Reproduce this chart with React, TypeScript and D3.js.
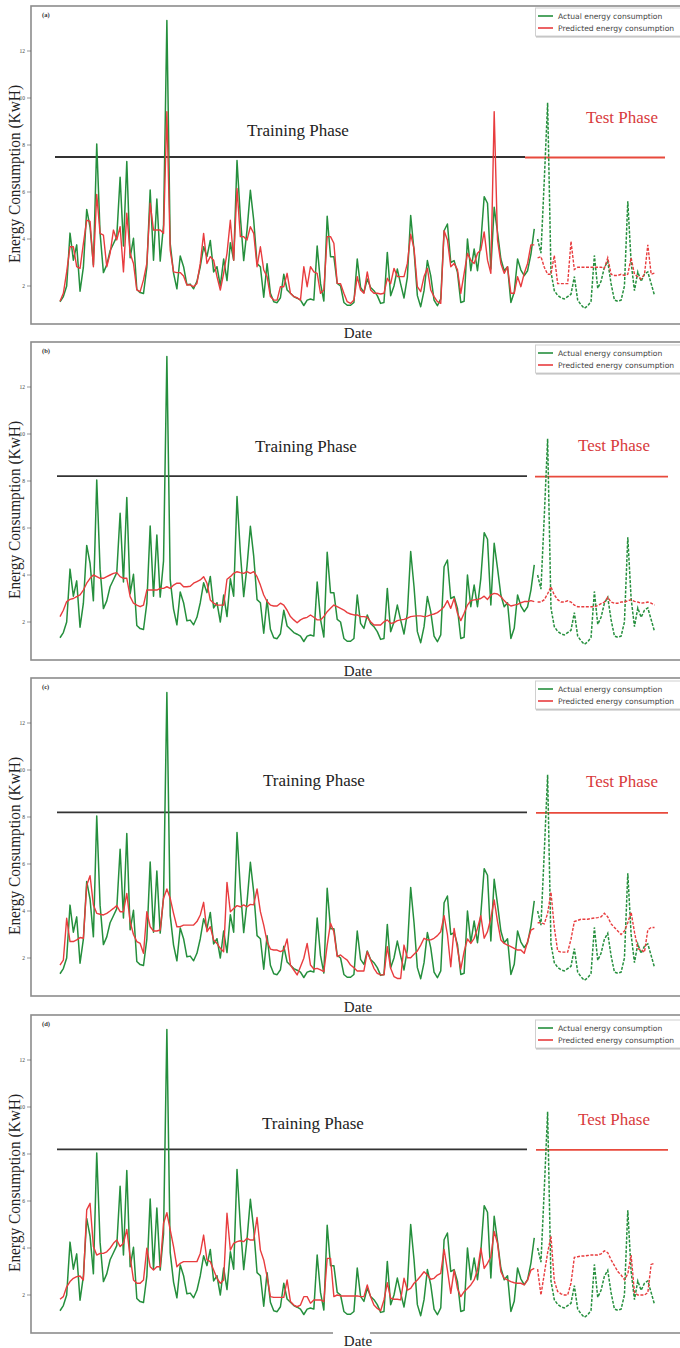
import React from "react";
import * as d3 from "d3";

// ---------- DATA ----------
const actualTrain = [
  1.33, 1.55, 2.0, 4.25, 3.1, 3.75, 1.78, 2.8, 5.26, 4.5,
  2.9, 8.04, 4.25, 2.57, 2.9, 3.5, 3.8, 4.1, 6.63, 3.7,
  7.3, 3.2, 4.03, 1.85, 1.72, 1.68, 2.8, 6.08, 3.1, 5.7,
  3.06, 4.6, 13.3, 3.8, 2.55, 1.88, 3.28, 2.82, 2.05, 2.08,
  1.88, 2.2, 2.82, 3.67, 3.25, 3.94, 2.6, 2.82, 2.0, 3.15,
  2.23, 3.84, 3.1, 7.34, 4.95, 3.08, 4.38, 6.07, 4.8, 2.95,
  2.82, 1.52, 2.95, 1.69, 1.33, 1.29, 1.5, 2.5, 1.83, 1.69,
  1.55, 1.48, 1.4, 1.17, 1.4, 1.45, 1.4, 3.7, 2.11, 1.36,
  4.97, 3.25, 3.25, 2.11, 2.0, 1.3, 1.18, 1.18, 1.3, 3.15,
  1.94, 1.73, 2.3, 1.94, 1.8, 1.59, 1.26, 1.3, 3.43, 1.59,
  2.0, 2.72, 2.08, 1.49, 2.37, 5.0, 3.5, 1.59, 1.12, 1.8,
  3.08, 2.44, 1.4, 1.16, 1.45, 4.35, 4.64, 3.0, 3.08, 2.58,
  1.3, 1.35, 4.0, 2.65, 3.57, 2.65, 3.86, 5.8, 5.52, 2.72,
  5.35, 4.28, 3.15, 2.65, 2.82, 1.3, 1.73, 3.15, 2.68, 2.44,
  2.65, 3.36, 4.43,
];
const actualTest = [
  4.0, 3.4, 6.5, 9.8, 2.6, 1.8, 1.6, 1.5, 1.45, 1.55,
  1.65, 2.4, 1.4, 1.2, 1.05, 1.15, 1.35, 3.3, 1.9, 2.2,
  2.8, 3.05, 2.1, 1.4, 1.35, 1.4, 2.0, 5.6, 3.0, 1.8,
  2.6, 2.2, 2.5, 2.6, 2.1, 1.6,
];

const predTrainA = [
  1.35, 1.69, 2.6, 3.67, 3.67, 2.82, 2.75, 3.8, 4.8, 4.75,
  2.82, 5.9, 4.24, 4.17, 2.82, 3.39, 4.38, 3.96, 4.52, 2.6,
  5.1, 3.39, 2.96, 1.83, 1.76, 2.26, 2.96, 5.52, 4.38, 4.38,
  4.38, 4.24, 9.42, 3.53, 2.6, 2.57, 2.57, 2.43, 2.04, 2.04,
  1.97, 2.11, 2.96, 4.24, 2.96, 3.25, 3.1, 2.4, 1.83, 2.54,
  3.39, 4.8, 3.1, 6.15, 4.1, 4.1, 3.96, 4.52, 4.24, 2.82,
  3.67, 2.68, 2.4, 1.55, 1.4, 1.4, 1.97, 1.97, 2.54, 1.69,
  1.55, 1.5, 1.4, 2.82, 1.97, 2.82, 2.6, 2.54, 1.69, 1.83,
  4.1, 4.1, 3.82, 2.11, 2.1, 1.69, 1.33, 1.26, 1.4, 2.4,
  1.83, 1.69, 2.6, 1.83, 1.69, 1.69, 1.66, 1.69, 2.33, 2.1,
  2.75, 2.4, 2.4, 2.4, 2.96, 4.2, 3.6, 1.97, 1.76, 2.4,
  2.75, 1.83, 1.55, 1.33, 1.26, 4.35, 3.96, 2.82, 2.96, 2.7,
  1.69, 2.54, 3.39, 3.1, 2.96, 3.39, 3.53, 4.3, 3.1, 2.54,
  9.42, 3.96, 2.96, 2.54, 2.82, 1.69, 1.69, 2.4, 1.97, 2.54,
  2.96, 3.75, 3.75,
];
const predTestA = [
  3.2, 3.25, 2.8, 2.5, 2.5, 3.3, 2.1, 2.1, 2.1, 2.1,
  3.9, 2.7, 2.8, 2.8, 2.8, 2.8, 2.8, 2.8, 2.8, 2.8,
  2.75, 3.2, 2.5, 2.45, 2.45, 2.5, 2.45, 2.5, 3.2, 2.5,
  2.4, 2.3, 2.5, 3.75, 2.5, 2.55,
];

const predTrainB = [
  2.23, 2.5, 2.87, 2.96, 3.0, 3.08, 3.15, 3.36, 3.65, 3.86,
  4.0, 3.93, 3.86, 3.86, 3.93, 4.0, 4.07, 4.1, 3.93, 3.86,
  3.86, 3.08, 2.8, 2.72, 2.65, 2.72, 3.36, 3.36, 3.36, 3.36,
  3.43, 3.43, 3.5, 3.43, 3.57, 3.65, 3.65, 3.5, 3.5, 3.52,
  3.65, 3.72, 3.79, 3.93, 3.65, 2.94, 2.8, 2.72, 2.72, 2.72,
  3.82, 3.93, 4.07, 4.14, 4.1, 4.07, 4.14, 4.07, 4.14, 3.93,
  3.57, 3.15, 2.87, 2.72, 2.68, 2.68, 2.8, 2.72, 2.5, 2.23,
  2.09, 1.97, 2.09, 2.16, 2.2, 2.3, 2.2, 2.09, 2.09, 2.23,
  2.44, 2.58, 2.72, 2.65, 2.58, 2.51, 2.4, 2.34, 2.3, 2.3,
  2.23, 2.23, 2.2, 2.01, 1.87, 1.87, 1.87, 2.01, 2.09, 1.94,
  1.97, 2.06, 2.09, 2.11, 2.16, 2.23, 2.25, 2.26, 2.26, 2.23,
  2.25, 2.3, 2.34, 2.4, 2.51, 2.65, 2.91, 2.58, 3.0, 2.37,
  2.06, 2.37, 2.72, 2.91, 2.94, 2.96, 3.0, 3.1, 2.96, 3.15,
  3.22, 3.19, 3.08, 2.91, 2.77, 2.68, 2.72, 2.75, 2.82, 2.87,
  2.87, 2.91, 2.87,
];
const predTestB = [
  2.85, 2.85, 2.95, 3.2, 3.5, 3.15, 2.95, 2.85, 2.85, 2.9,
  2.85, 2.72, 2.65, 2.65, 2.65, 2.65, 2.65, 2.65, 2.7, 2.78,
  2.85, 3.05, 2.85, 2.8, 2.8, 2.85, 2.85, 2.9, 2.95, 2.88,
  2.85, 2.8, 2.82, 2.85, 2.8, 2.72,
];

const predTrainC = [
  1.7, 1.91, 3.69, 2.7, 2.7, 2.77, 2.87, 2.84, 5.1, 5.5,
  4.26, 3.9, 3.86, 3.83, 3.9, 4.0, 4.11, 4.23, 3.97, 3.97,
  4.75, 3.55, 3.0, 2.7, 2.62, 2.2, 3.97, 3.33, 3.15, 3.15,
  3.19, 4.54, 4.94, 4.54, 3.9, 3.33, 3.33, 3.4, 3.4, 3.4,
  3.4, 3.55, 3.83, 4.37, 3.12, 3.33, 2.77, 2.62, 2.41, 2.27,
  5.22, 3.97, 4.11, 4.23, 4.18, 4.26, 4.18, 4.28, 4.26, 4.94,
  3.97, 3.4, 2.7, 2.38, 2.34, 2.34, 2.27, 2.34, 2.81, 1.7,
  1.49, 1.28, 1.63, 1.99, 2.62, 1.7, 1.53, 1.56, 1.49, 1.42,
  2.55, 3.48, 3.12, 2.06, 2.13, 2.01, 1.91, 1.7, 1.59, 1.45,
  1.45, 1.45, 2.27, 1.91, 1.56, 1.35, 1.28, 1.28, 2.48, 1.56,
  1.21, 1.13, 1.13, 2.55, 2.01, 2.01, 2.16, 2.3, 2.55, 2.84,
  2.77, 2.77, 2.84, 2.95, 3.12, 3.8, 3.0, 1.63, 3.26, 2.41,
  1.53, 2.27, 2.81, 2.62, 2.84, 3.26, 3.8, 2.84, 3.12, 3.69,
  4.47, 3.55, 2.77, 2.62, 2.55, 2.48, 2.41, 2.34, 2.34, 2.2,
  2.7, 3.19, 3.26,
];
const predTestC = [
  3.5, 3.5, 3.45, 3.9, 4.8, 3.3, 2.3, 2.25, 2.25, 2.25,
  2.8, 3.55, 3.6, 3.65, 3.65, 3.65, 3.68, 3.7, 3.72, 3.75,
  3.9, 3.75, 3.45, 3.3, 3.15, 3.0, 3.15, 3.5, 3.95, 3.1,
  2.4, 2.35, 2.25, 3.2, 3.3, 3.3,
];

const predTrainD = [
  1.82, 1.93, 2.35, 2.57, 2.71, 2.78, 2.81, 2.64, 5.62, 5.9,
  4.06, 3.7, 3.77, 3.77, 3.84, 3.99, 4.2, 4.34, 4.06, 4.2,
  4.79, 3.63, 2.64, 2.5, 2.5, 2.64, 3.99, 3.2, 3.06, 3.2,
  3.2, 5.05, 5.5, 4.77, 4.06, 3.2, 3.35, 3.42, 3.42, 3.42,
  3.42, 3.42, 3.77, 4.55, 3.49, 3.42, 3.06, 2.71, 2.5, 2.64,
  5.48, 3.91, 4.2, 4.27, 4.31, 4.27, 4.41, 4.34, 4.34, 5.3,
  3.91, 3.49, 2.78, 1.93, 1.9, 1.9, 1.9, 1.9, 2.64, 1.72,
  1.57, 1.5, 1.57, 1.93, 1.93, 1.65, 1.79, 1.79, 1.79, 1.72,
  3.56, 3.56, 1.93, 2.0, 1.96, 1.96, 1.96, 1.96, 1.96, 1.96,
  1.93, 1.93, 2.43, 1.93, 1.57, 1.43, 1.33, 1.79, 2.52, 1.86,
  1.82, 1.82, 1.79, 2.71, 2.21, 2.28, 2.5, 2.64, 2.81, 2.99,
  2.85, 2.67, 2.71, 2.85, 2.92, 3.94, 3.06, 2.07, 3.06, 2.28,
  1.93, 2.14, 2.28, 2.43, 2.64, 3.06, 3.99, 3.13, 3.35, 3.63,
  4.7, 4.2, 2.99, 2.71, 2.64, 2.57, 2.52, 2.5, 2.5, 2.43,
  2.64, 3.06, 3.13,
];
const predTestD = [
  3.1, 2.0, 2.9, 3.8, 4.5, 2.6, 2.15, 2.05, 2.0, 2.0,
  2.5, 3.6, 3.63, 3.66, 3.66, 3.68, 3.7, 3.7, 3.7, 3.75,
  3.88, 3.8, 3.5, 3.25, 3.0, 2.85, 2.65, 2.9, 3.7, 2.1,
  2.0, 2.0, 2.0, 2.1, 3.3, 3.35,
];

const yTicks = [2, 4, 6, 8, 10, 12];
const panelLabels = ["(a)", "(b)", "(c)", "(d)"];
const phaseLevels = [7.49, 8.21, 8.2, 8.2];
const legendLabels = ["Actual energy consumption", "Predicted energy consumption"];
const yAxisLabel = "Energy Consumption (KwH)";
const xAxisLabel = "Date";
const trainLabel = "Training Phase";
const testLabel = "Test Phase";

const predTrain = [predTrainA, predTrainB, predTrainC, predTrainD];
const predTest = [predTestA, predTestB, predTestC, predTestD];

// ---------- LAYOUT ----------
const W = 680;
const H = 1348;
const GREEN = "#258f3d";
const RED = "#e83c3e";
const SERIF = "'Liberation Serif', 'Times New Roman', serif";
const SANS = "'DejaVu Sans', sans-serif";

const panels = [
  { top: 6, trainX: [55, 525], testX: [525, 665], trainT: [247, 129.5], testT: [586, 116.5], leg: 10, date: 338 },
  { top: 342, trainX: [57, 527], testX: [535, 668], trainT: [255, 109.5], testT: [578, 108.5], leg: 11, date: 676 },
  { top: 678, trainX: [57, 527], testX: [536, 668], trainT: [263, 107.5], testT: [586, 108.5], leg: 11, date: 1012 },
  { top: 1015, trainX: [57, 527], testX: [536, 668], trainT: [262, 113.5], testT: [578, 109.5], leg: 13, date: 1346 },
];

const nTrain = actualTrain.length;
const nTotal = actualTrain.length + actualTest.length;

function Panel({ idx }: { idx: number }) {
  const p = panels[idx];
  const top = p.top;
  const x = d3.scaleLinear().domain([0, nTotal - 1]).range([60, 654.5]);
  const y = d3.scaleLinear().domain([2, 12]).range([top + 280, top + 45]);
  const mkLine = (offset: number) =>
    d3
      .line<number>()
      .x((_, i) => x(i + offset))
      .y((d) => y(d));
  const trainLine = mkLine(0);
  const testLine = mkLine(nTrain);
  const frameBottom = top + 318;
  const lvl = y(phaseLevels[idx]);

  return (
    <g>
      {/* frame */}
      <rect x={31} y={top} width={W + 10} height={318} fill="none" stroke="#8c8c8c" strokeWidth={1.6} />
      {/* y ticks */}
      {yTicks.map((t) => (
        <g key={t}>
          <line x1={27} x2={31} y1={y(t)} y2={y(t)} stroke="#555" strokeWidth={0.6} />
          <text x={25} y={y(t) + 2} fontSize={5.5} textAnchor="end" fill="#444" fontFamily={SERIF}>
            {t}
          </text>
        </g>
      ))}
      {/* panel label */}
      <text x={42} y={top + 11} fontSize={6.5} fontWeight="bold" fill="#333" fontFamily={SERIF}>
        {panelLabels[idx]}
      </text>
      {/* y axis label */}
      <text
        transform={`translate(19.5,${top + 168}) rotate(-90)`}
        textAnchor="middle"
        fontSize={17.5}
        fill="#222"
        fontFamily={SERIF}
        textLength={178}
        lengthAdjust="spacingAndGlyphs"
      >
        {yAxisLabel}
      </text>
      {/* phase annotations */}
      <line x1={p.trainX[0]} x2={p.trainX[1]} y1={lvl} y2={lvl} stroke="#333" strokeWidth={1.8} />
      <line x1={p.testX[0]} x2={p.testX[1]} y1={lvl + 0.5} y2={lvl + 0.5} stroke="#e84a3c" strokeWidth={1.8} />
      <text x={p.trainT[0]} y={top + p.trainT[1]} fontSize={17} fill="#222" fontFamily={SERIF}>
        {trainLabel}
      </text>
      <text x={p.testT[0]} y={top + p.testT[1]} fontSize={17} fill="#d83a3c" fontFamily={SERIF}>
        {testLabel}
      </text>
      {/* series */}
      <path d={trainLine(actualTrain) || ""} fill="none" stroke={GREEN} strokeWidth={1.5} strokeLinejoin="round" />
      <path d={trainLine(predTrain[idx]) || ""} fill="none" stroke={RED} strokeWidth={1.4} strokeLinejoin="round" />
      <path
        d={testLine(actualTest) || ""}
        fill="none"
        stroke={GREEN}
        strokeWidth={1.5}
        strokeDasharray="3,1.5"
      />
      <path
        d={testLine(predTest[idx]) || ""}
        fill="none"
        stroke={RED}
        strokeWidth={1.4}
        strokeDasharray="3,1.5"
      />
      {/* legend */}
      <rect x={535.5} y={top + p.leg - 8} width={160} height={28} fill="#fff" stroke="#d0d0d0" strokeWidth={1} />
      <line x1={536} x2={700} y1={top + p.leg + 20.8} y2={top + p.leg + 20.8} stroke="#bbb" strokeWidth={1.2} />
      <line x1={538} x2={553} y1={top + p.leg} y2={top + p.leg} stroke={GREEN} strokeWidth={1.6} />
      <line x1={538} x2={553} y1={top + p.leg + 12} y2={top + p.leg + 12} stroke={RED} strokeWidth={1.6} />
      <text x={558} y={top + p.leg + 2.6} fontSize={7.6} fill="#444" fontFamily={SANS}>
        {legendLabels[0]}
      </text>
      <text x={558} y={top + p.leg + 14.6} fontSize={7.6} fill="#444" fontFamily={SANS}>
        {legendLabels[1]}
      </text>
      {/* x axis label */}
      {idx === panels.length - 1 && (
        <rect x={333} y={frameBottom - 2} width={37} height={4} fill="#fff" />
      )}
      <text x={358} y={p.date} fontSize={15} textAnchor="middle" fill="#222" fontFamily={SERIF}>
        {xAxisLabel}
      </text>
    </g>
  );
}

export default function App() {
  return (
    <svg
      width={W}
      height={H}
      viewBox={`0 0 ${W} ${H}`}
      style={{ position: "absolute", left: 0, top: 0, background: "#fff" }}
    >
      <rect x={0} y={0} width={W} height={H} fill="#fff" />
      {panels.map((_, i) => (
        <Panel key={i} idx={i} />
      ))}
    </svg>
  );
}
